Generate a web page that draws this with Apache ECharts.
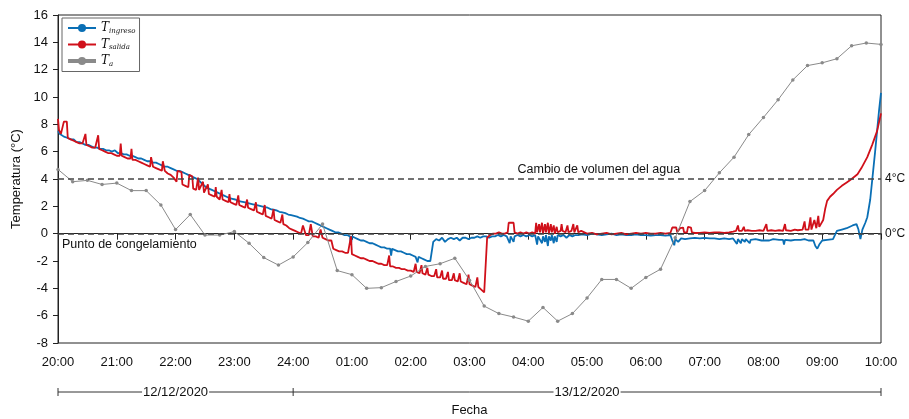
<!DOCTYPE html>
<html><head><meta charset="utf-8">
<script src="https://cdn.jsdelivr.net/npm/echarts@6/dist/echarts.min.js"></script>
<style>html,body{margin:0;padding:0;background:#fff}#c{width:909px;height:419px}</style>
</head><body><div id="c"></div>
<script>
// ---- data ----
const hourLabels = ['20:00','21:00','22:00','23:00','24:00','01:00','02:00','03:00','04:00','05:00','06:00','07:00','08:00','09:00','10:00'];
const dateBreaks = [0, 240, 840];
const dateLabels = ['12/12/2020', '13/12/2020'];
const refValues = [4, 0];
const refRightLabels = ['4°C', '0°C'];
const refNotes = ['Cambio de volumen del agua', 'Punto de congelamiento'];

const taMinutes = [0,15,30,45,60,75,90,105,120,135,150,165,180,195,210,225,240,255,270,285,300,315,330,345,360,375,390,405,420,435,450,465,480,495,510,525,540,555,570,585,600,615,630,645,660,675,690,705,720,735,750,765,780,795,810,825,840];
const taValues = [4.7,3.8,3.9,3.6,3.7,3.15,3.15,2.1,0.3,1.4,-0.1,-0.1,0.15,-0.7,-1.75,-2.3,-1.7,-0.65,0.7,-2.7,-3.0,-4.0,-3.95,-3.5,-3.1,-2.4,-2.2,-1.8,-3.4,-5.3,-5.85,-6.1,-6.4,-5.4,-6.4,-5.85,-4.7,-3.35,-3.35,-4.0,-3.2,-2.6,-0.3,2.35,3.15,4.45,5.6,7.25,8.5,9.8,11.25,12.3,12.5,12.8,13.75,13.95,13.85];

const ingreso = [[0,7.5],[2,7.3],[4,7.4],[6,7.1],[8,7.2],[10,7.0],[13,6.9],[16,6.9],[19,6.7],[22,6.7],[25,6.6],[28,6.5],[31,6.5],[34,6.4],[37,6.3],[40,6.3],[43,6.2],[46,6.2],[49,6.1],[52,6.1],[55,6.0],[58,6.1],[61,5.9],[64,5.9],[67,5.8],[70,5.8],[73,5.7],[76,5.7],[79,5.6],[82,5.5],[85,5.5],[88,5.4],[91,5.3],[94,5.3],[97,5.2],[100,5.2],[103,5.1],[106,5.0],[109,4.9],[112,4.9],[115,4.8],[118,4.7],[121,4.6],[124,4.6],[127,4.5],[130,4.4],[133,4.3],[136,4.2],[139,4.1],[142,4.0],[145,3.8],[148,3.6],[151,3.4],[154,3.3],[157,3.2],[160,3.1],[163,3.0],[166,2.9],[169,2.8],[172,2.7],[175,2.6],[178,2.55],[181,2.5],[184,2.4],[187,2.35],[190,2.3],[193,2.25],[196,2.2],[199,2.15],[202,2.1],[205,2.05],[208,2.0],[211,1.95],[214,1.9],[217,1.8],[220,1.75],[223,1.7],[226,1.6],[229,1.55],[232,1.5],[235,1.4],[238,1.35],[241,1.3],[244,1.25],[247,1.15],[250,1.1],[253,1.0],[256,0.9],[259,0.9],[262,0.8],[265,0.7],[268,0.6],[271,0.5],[274,0.4],[277,0.3],[280,0.2],[283,0.1],[286,0.1],[289,0.0],[292,-0.1],[295,-0.1],[298,-0.2],[299,-0.8],[300,-0.2],[303,-0.3],[306,-0.4],[309,-0.5],[312,-0.5],[315,-0.6],[318,-0.7],[321,-0.7],[324,-0.8],[327,-0.9],[330,-1.0],[333,-1.0],[336,-1.1],[339,-1.1],[340,-1.6],[341,-1.1],[344,-1.2],[347,-1.3],[350,-1.3],[353,-1.4],[356,-1.5],[359,-1.5],[362,-1.6],[365,-1.7],[367,-2.1],[368,-1.7],[371,-1.8],[374,-1.9],[377,-2.0],[380,-2.0],[382,-2.1],[383,-0.6],[386,-0.4],[389,-0.5],[392,-0.3],[395,-0.6],[398,-0.4],[401,-0.3],[404,-0.4],[407,-0.3],[410,-0.5],[413,-0.3],[416,-0.3],[419,-0.4],[422,-0.3],[425,-0.3],[428,-0.2],[431,-0.3],[434,-0.2],[437,-0.2],[440,-0.3],[443,-0.2],[446,-0.2],[449,-0.1],[452,-0.2],[455,-0.1],[458,-0.2],[461,-0.7],[462,-0.2],[465,-0.6],[466,-0.2],[469,-0.1],[472,-0.2],[475,-0.1],[478,-0.2],[481,-0.1],[484,-0.2],[487,-0.1],[489,-0.8],[490,-0.2],[492,-0.1],[494,-0.7],[495,-0.2],[497,-0.6],[498,-0.1],[500,-0.9],[501,-0.2],[503,-0.5],[504,-0.1],[506,-0.7],[507,-0.2],[509,-0.6],[510,-0.1],[513,-0.2],[516,-0.1],[519,-0.3],[522,-0.1],[525,-0.2],[528,-0.1],[531,-0.1],[535,-0.05],[540,-0.1],[545,0.0],[550,-0.05],[555,-0.1],[560,-0.05],[565,0.0],[570,-0.1],[575,-0.05],[580,-0.1],[585,-0.1],[590,-0.05],[595,-0.1],[600,-0.1],[605,-0.15],[610,-0.1],[615,-0.1],[620,-0.15],[625,-0.1],[627,-0.5],[629,-0.85],[630,-0.4],[633,-0.6],[636,-0.35],[640,-0.4],[645,-0.35],[650,-0.3],[655,-0.35],[660,-0.3],[665,-0.35],[670,-0.35],[675,-0.4],[680,-0.35],[685,-0.4],[689,-0.35],[693,-0.75],[694,-0.4],[697,-0.7],[698,-0.4],[701,-0.6],[702,-0.4],[706,-0.7],[707,-0.45],[712,-0.4],[718,-0.5],[720,-0.45],[726,-0.5],[730,-0.4],[736,-0.45],[740,-0.45],[741,-0.8],[742,-0.45],[748,-0.5],[752,-0.45],[758,-0.45],[762,-0.4],[766,-0.5],[771,-0.5],[773,-0.9],[775,-1.1],[777,-0.8],[780,-0.5],[785,-0.45],[791,-0.4],[795,0.2],[800,0.3],[805,0.4],[811,0.6],[815,0.7],[817,0.3],[819,-0.4],[821,0.3],[824,0.8],[826,1.2],[829,2.5],[831,3.9],[834,6.0],[836,7.5],[838,9.0],[840,10.3]];

const salida = [[0,8.4],[1,7.6],[3,7.3],[5,7.2],[6,8.2],[7,8.3],[9,8.2],[10,7.0],[13,6.9],[16,6.8],[19,6.7],[22,6.6],[25,6.6],[27,6.5],[28,7.3],[29,6.5],[32,6.4],[35,6.3],[38,6.3],[40,6.2],[41,7.2],[42,6.2],[45,6.1],[48,6.0],[51,5.9],[54,5.9],[57,5.8],[60,5.7],[63,5.7],[64,6.6],[65,5.7],[68,5.6],[71,5.5],[74,5.5],[75,6.2],[76,5.4],[79,5.4],[82,5.3],[85,5.2],[88,5.1],[91,5.0],[94,4.9],[95,5.6],[96,5.6],[97,4.9],[100,4.8],[103,4.7],[106,4.6],[107,5.3],[108,5.3],[109,4.6],[112,4.4],[115,4.3],[118,4.1],[121,3.8],[122,4.6],[126,4.5],[127,3.6],[130,3.5],[133,3.4],[134,4.3],[137,4.2],[138,3.3],[141,3.2],[143,4.1],[144,3.2],[146,3.1],[148,3.8],[149,3.0],[151,2.9],[153,3.6],[154,2.9],[157,2.8],[160,2.7],[161,3.4],[162,2.7],[165,2.5],[167,3.2],[168,2.5],[171,2.4],[174,2.3],[175,2.9],[176,2.3],[179,2.2],[182,2.1],[184,2.8],[185,2.1],[188,2.0],[191,1.9],[193,2.5],[194,1.9],[197,1.8],[200,1.7],[202,2.3],[203,1.6],[206,1.5],[209,1.4],[211,2.1],[212,1.3],[215,1.2],[218,1.1],[220,1.8],[221,1.0],[224,0.9],[227,0.8],[229,1.4],[230,0.7],[233,0.6],[236,0.4],[239,0.3],[242,0.2],[245,0.1],[248,0.0],[250,0.6],[252,0.6],[253,-0.1],[256,-0.1],[258,0.7],[260,-0.2],[263,-0.2],[266,-0.3],[268,0.3],[270,-0.3],[273,-0.4],[276,-0.5],[279,-0.5],[281,-1.1],[284,-1.2],[287,-1.3],[290,-1.3],[293,-1.4],[296,-1.4],[298,-1.5],[299,-0.2],[300,-1.5],[303,-1.6],[306,-1.7],[309,-1.8],[312,-1.8],[315,-1.9],[318,-2.0],[321,-2.0],[324,-2.1],[327,-2.2],[330,-2.2],[333,-2.3],[336,-2.3],[338,-1.6],[339,-2.4],[342,-2.4],[345,-2.5],[348,-2.5],[351,-2.6],[354,-2.6],[357,-2.7],[360,-2.7],[363,-2.8],[365,-2.2],[366,-2.8],[369,-2.9],[371,-2.3],[372,-2.9],[375,-3.0],[377,-2.5],[378,-3.0],[381,-3.1],[384,-3.1],[386,-2.6],[387,-3.2],[390,-3.2],[392,-2.7],[393,-3.3],[396,-3.3],[398,-2.8],[399,-3.4],[402,-3.4],[404,-2.9],[405,-3.4],[408,-3.5],[410,-2.9],[411,-3.5],[414,-3.6],[417,-3.7],[419,-3.0],[420,-3.7],[423,-3.8],[426,-3.9],[428,-3.2],[429,-3.9],[432,-4.1],[435,-4.3],[437,-4.4],[438,-0.3],[441,-0.1],[444,0.0],[447,0.0],[450,0.1],[453,0.0],[456,0.0],[459,0.1],[460,0.8],[465,0.8],[466,0.1],[469,0.0],[472,0.1],[475,0.0],[478,0.1],[481,0.0],[484,0.1],[487,0.0],[488,0.8],[489,0.1],[491,0.7],[492,0.1],[494,0.8],[495,0.0],[497,0.7],[498,0.1],[500,0.8],[501,0.0],[503,0.7],[504,0.1],[506,0.6],[507,0.0],[509,0.5],[510,0.1],[513,0.2],[514,0.7],[515,0.2],[518,0.1],[520,0.6],[521,0.1],[524,0.2],[526,0.7],[527,0.1],[530,0.6],[531,0.1],[534,0.2],[536,0.1],[540,0.0],[545,0.05],[550,-0.05],[555,0.0],[560,0.05],[565,-0.05],[570,0.0],[575,0.05],[580,-0.05],[585,0.0],[590,0.05],[595,0.0],[600,0.05],[605,0.0],[610,0.0],[615,0.05],[620,0.0],[625,0.05],[627,0.45],[631,0.45],[632,0.1],[635,0.4],[638,0.45],[639,0.1],[642,0.1],[643,0.5],[646,0.45],[647,0.1],[650,0.05],[655,0.05],[660,0.1],[665,0.05],[670,0.1],[675,0.1],[680,0.05],[685,0.1],[689,0.15],[692,0.2],[694,0.6],[695,0.2],[698,0.2],[700,0.5],[701,0.2],[704,0.25],[708,0.2],[712,0.2],[716,0.25],[720,0.2],[723,0.7],[724,0.2],[728,0.25],[732,0.2],[736,0.25],[740,0.2],[742,0.7],[743,0.25],[748,0.2],[752,0.3],[755,0.25],[757,0.3],[760,0.3],[762,0.9],[763,0.3],[766,0.3],[768,1.2],[769,0.3],[772,1.0],[773,1.0],[774,0.4],[776,1.3],[777,0.5],[779,0.6],[781,1.0],[783,1.8],[785,2.4],[788,2.7],[791,2.9],[795,3.2],[800,3.5],[805,3.75],[810,4.0],[816,4.35],[820,4.8],[826,5.6],[831,6.5],[836,7.5],[840,8.8]];

// ---- chart ----
const FONT = 'Liberation Sans, Arial, sans-serif';
const chart = echarts.init(document.getElementById('c'), null, {renderer: 'canvas'});
const subs = {Tingreso: 'ingreso', Tsalida: 'salida', Ta: 'a'};
const dashStyle = {color: '#444', width: 1.5, type: [6, 4]};
const hidden = {color: 'rgba(0,0,0,0)', width: 0};
const noteLabel = {fontFamily: FONT, fontSize: 12.5, color: '#111'};

const option = {
  animation: false,
  backgroundColor: '#fff',
  grid: {left: 58, right: 28, top: 15, bottom: 76, show: true, borderColor: '#222', borderWidth: 1,
         containLabel: false, outerBoundsMode: 'none'},
  legend: {
    left: 62, top: 18, orient: 'vertical',
    backgroundColor: '#fff', borderColor: '#666', borderWidth: 1,
    padding: [4, 4, 4, 4], itemGap: 4, itemWidth: 28, itemHeight: 10,
    data: [
      {name: 'Tingreso'},
      {name: 'Tsalida'},
      {name: 'Ta', lineStyle: {width: 4}}
    ],
    formatter: n => '{t|T}{s|' + subs[n] + '}',
    textStyle: {
      rich: {
        t: {fontFamily: 'DejaVu Serif', fontStyle: 'italic', fontSize: 12, color: '#111'},
        s: {fontFamily: 'DejaVu Serif', fontStyle: 'italic', fontSize: 7, color: '#111', padding: [6, 0, 0, 0]}
      }
    }
  },
  xAxis: {
    type: 'value', min: 0, max: 840, interval: 60,
    name: 'Fecha', nameLocation: 'middle', nameGap: 61,
    nameTextStyle: {fontFamily: FONT, fontSize: 13, color: '#111'},
    axisLine: {show: true, lineStyle: {color: '#222', width: 1}},
    axisTick: {show: true, length: 6, lineStyle: {color: '#222'}},
    axisLabel: {fontFamily: FONT, fontSize: 13, color: '#111', margin: 13,
      formatter: v => hourLabels[Math.round(v / 60)]},
    splitLine: {show: false}
  },
  yAxis: {
    type: 'value', min: -8, max: 16, interval: 2,
    name: 'Temperatura (°C)', nameLocation: 'middle', nameGap: 29,
    nameTextStyle: {fontFamily: FONT, fontSize: 13, color: '#111'},
    axisLine: {show: true, lineStyle: {color: '#222', width: 1}},
    axisTick: {show: true, length: 5, lineStyle: {color: '#222'}},
    axisLabel: {fontFamily: FONT, fontSize: 13, color: '#111', margin: 10},
    splitLine: {show: false}
  },
  series: [
    {
      name: 'Tingreso', type: 'line', data: ingreso, color: '#0a6fb5',
      symbol: 'circle', symbolSize: 6, showSymbol: false,
      lineStyle: {width: 1.8}, z: 2,
      markLine: {
        silent: true, symbol: 'none', lineStyle: dashStyle,
        data: [
          {yAxis: refValues[0], label: {show: true, position: 'end', formatter: refRightLabels[0], fontFamily: FONT, fontSize: 12, color: '#111', distance: 4}},
          {yAxis: refValues[1], label: {show: true, position: 'end', formatter: refRightLabels[1], fontFamily: FONT, fontSize: 12, color: '#111', distance: 4}},
          [{coord: [0, refValues[0]], lineStyle: hidden, label: Object.assign({show: true, position: 'insideEndTop', formatter: refNotes[0], distance: 3}, noteLabel)},
           {coord: [638, refValues[0]]}],
          [{coord: [0, refValues[1]], lineStyle: hidden, label: Object.assign({show: true, position: 'insideStartBottom', formatter: refNotes[1], distance: 4}, noteLabel)},
           {coord: [300, refValues[1]]}]
        ]
      }
    },
    {
      name: 'Tsalida', type: 'line', data: salida, color: '#d0101a',
      symbol: 'circle', symbolSize: 6, showSymbol: false,
      lineStyle: {width: 1.8}, z: 3
    },
    {
      name: 'Ta', type: 'line', data: taMinutes.map((m, i) => [m, taValues[i]]), color: '#8a8a8a',
      symbol: 'circle', symbolSize: 3.5, showSymbol: true,
      lineStyle: {width: 1}, z: 4
    }
  ]
};
chart.setOption(option);

// date bracket below axis
function drawDates() {
  const yBase = chart.convertToPixel({yAxisIndex: 0}, -8) + 49;
  const els = [];
  const xs = dateBreaks.map(t => chart.convertToPixel({xAxisIndex: 0}, t));
  els.push({type: 'line', shape: {x1: xs[0], y1: yBase, x2: xs[xs.length - 1], y2: yBase}, style: {stroke: '#333', lineWidth: 1}, z: 1});
  xs.forEach(x => els.push({type: 'line', shape: {x1: x, y1: yBase - 4, x2: x, y2: yBase + 4}, style: {stroke: '#333', lineWidth: 1}, z: 1}));
  for (let i = 0; i < dateLabels.length; i++) {
    const cx = (xs[i] + xs[i + 1]) / 2;
    els.push({type: 'text', x: cx, y: yBase, z: 2,
      style: {text: dateLabels[i], fontFamily: FONT, fontSize: 13, fill: '#111', align: 'center', verticalAlign: 'middle', backgroundColor: '#fff', padding: [0, 1]}});
  }
  chart.setOption({graphic: els});
}
drawDates();
</script>
</body></html>
